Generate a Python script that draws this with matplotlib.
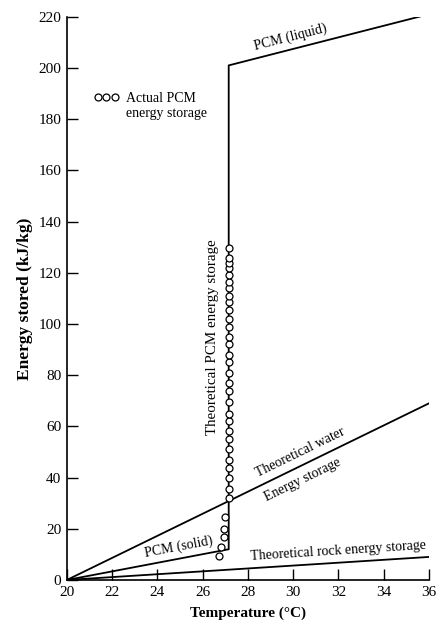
import numpy as np
import matplotlib
matplotlib.use("Agg")
import matplotlib.pyplot as plt
from matplotlib.lines import Line2D

plt.rcParams["font.family"] = ["Liberation Serif", "DejaVu Serif"]

# theoretical curves (temperature in C, energy in kJ/kg)
pcm_t = [20, 27.15, 27.15, 36]
pcm_e = [0, 12, 201, 221]
water_t = [20, 36]
water_e = [0, 69]
rock_t = [20, 36]
rock_e = [0, 9]

# measured PCM storage
actual_t = [26.7, 26.8, 26.95, 26.95, 27.0,
            27.15, 27.15, 27.15, 27.15, 27.15, 27.15, 27.15, 27.15, 27.15, 27.15,
            27.15, 27.15, 27.15, 27.15, 27.15, 27.15, 27.15, 27.15, 27.15, 27.15,
            27.15, 27.15, 27.15, 27.15, 27.15, 27.15, 27.15, 27.15, 27.15, 27.15]
actual_e = [9.4, 13, 16.8, 20, 24.6,
            32, 35.5, 40, 43.7, 47, 51, 55, 58, 62, 65,
            69.5, 74, 77, 81, 85, 88, 92, 95, 99, 102,
            105.5, 108.6, 111, 114, 116.4, 119, 122, 124, 125.8, 129.7]

x_ticks = [20, 22, 24, 26, 28, 30, 32, 34, 36]
y_ticks = [0, 20, 40, 60, 80, 100, 120, 140, 160, 180, 200, 220]

fig = plt.figure(figsize=(4.4, 6.3), dpi=100)
ax = fig.add_axes([0.152, 0.0794, 0.823, 0.894])

lw = 1.3
ax.plot(pcm_t, pcm_e, color="black", lw=lw)
ax.plot(water_t, water_e, color="black", lw=lw)
ax.plot(rock_t, rock_e, color="black", lw=lw)
ax.plot(actual_t, actual_e, linestyle="none", marker="o", ms=5,
        mfc="white", mec="black", mew=0.9)

ax.set_xlim(20, 36)
ax.set_ylim(0, 220)
ax.set_xticks(x_ticks)
ax.set_yticks(y_ticks)
for s in ["top", "right"]:
    ax.spines[s].set_visible(False)
for s in ["left", "bottom"]:
    ax.spines[s].set_linewidth(1.2)
ax.tick_params(direction="in", length=8, width=1.0, labelsize=11, pad=4)

ax.set_xlabel("Temperature (°C)", fontsize=11, fontweight="bold", labelpad=6)
ax.set_ylabel("Energy stored (kJ/kg)", fontsize=12.5, fontweight="bold", labelpad=4)


def slope_angle(t, e):
    return np.degrees(np.arctan2(e[-1] - e[0], t[-1] - t[0]))


txt = dict(fontsize=10, ha="center", va="center", rotation_mode="anchor",
           transform_rotates_text=True)
ax.text(29.9, 212, "PCM (liquid)", rotation=slope_angle(pcm_t[2:], pcm_e[2:]), **txt)
ax.text(30.3, 49.8, "Theoretical water", rotation=slope_angle(water_t, water_e), **txt)
ax.text(30.4, 39.2, "Energy storage", rotation=slope_angle(water_t, water_e), **txt)
ax.text(24.95, 12.8, "PCM (solid)", rotation=slope_angle(pcm_t[:2], pcm_e[:2]), **txt)
ax.text(32.0, 11.4, "Theoretical rock energy storage",
        rotation=slope_angle(rock_t, rock_e), **txt)
ax.text(26.42, 95, "Theoretical PCM energy storage", rotation=90,
        fontsize=10.8, ha="center", va="center")

handles = [Line2D([], [], linestyle="none", marker="o", ms=5, mfc="white",
                  mec="black", mew=0.9),
           Line2D([], [], linestyle="none")]
ax.legend(handles, ["Actual PCM", "energy storage"], loc="upper left",
          bbox_to_anchor=(0.04, 0.888), frameon=False, numpoints=3,
          handlelength=1.8, handletextpad=0.5, labelspacing=0.1, fontsize=10)

fig.savefig("out.png", dpi=100)
